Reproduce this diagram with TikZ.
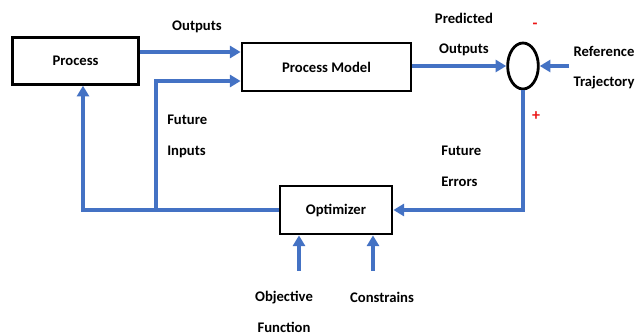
\documentclass[tikz,border=0pt]{standalone}
\usepackage{fontspec}
\setmainfont{Carlito}
\usetikzlibrary{arrows.meta,shapes.geometric}

\definecolor{flowblue}{RGB}{68,114,196}
\definecolor{signred}{RGB}{235,20,20}

\tikzset{
  blockbox/.style={draw=black, line width=2.1pt, fill=white, inner sep=0pt, font=\bfseries\fontsize{11}{13}\selectfont},
  flowline/.style={draw=flowblue, line width=2.6pt},
  flow/.style={flowline, -{Triangle[length=8pt,width=9pt]}},
  lbl/.style={inner sep=0pt, font=\bfseries\fontsize{11}{23}\selectfont},
  sign/.style={inner sep=0pt, text=signred, font=\bfseries\fontsize{12}{13}\selectfont},
}

\begin{document}
\begin{tikzpicture}[x=0.75pt,y=0.75pt,yscale=-1,xscale=1]
\useasboundingbox (0,0) rectangle (637,335);

%Shape: Blocks
\node[blockbox, minimum width=94pt, minimum height=35pt] (proc) at (75.5,61) {Process};
\node[blockbox, minimum width=126.75pt, minimum height=36pt] (model) at (326.5,67) {Process Model};
\node[blockbox, minimum width=84pt, minimum height=36pt] (opt) at (336,210) {Optimizer};
\node[ellipse, draw=black, line width=2.1pt, minimum width=23pt, minimum height=34.5pt, inner sep=0pt] (sum) at (523,66) {};

%Free ends
\coordinate (split) at (156,210);
\coordinate (ref) at (569,66);
\coordinate (objin) at (299,271);
\coordinate (conin) at (373,271);

%Straight Lines
\draw[flow] (proc.east |- 0,52) -- (model.west |- 0,52);
\draw[flow] (split) |- (model.west |- 0,81);
\draw[flow] (opt.west) -| (proc.south -| 83,0);
\draw[flow] (model.east |- sum.west) -- (sum.west);
\draw[flow] (ref) -- (sum.east);
\draw[flow] (sum.south) |- (opt.east);
\draw[flow] (objin) -- (opt.south -| objin);
\draw[flow] (conin) -- (opt.south -| conin);

% Text Node
\node[lbl] (outlbl) at (197,27) {Outputs};
\node[lbl, align=center] (predlbl) at (464,34.5) {Predicted\\Outputs};
\node[lbl, align=center] (reflbl) at (604,67.5) {Reference\\Trajectory};
\node[lbl, align=left, anchor=west] (inlbl) at (167,136.5) {Future\\Inputs};
\node[lbl, align=left, anchor=west] (errlbl) at (441,166) {Future\\Errors};
\node[lbl, align=center] (objlbl) at (284,312) {Objective\\Function};
\node[lbl] (conlbl) at (382,297) {Constrains};
\node[sign] (minus) at (535,26) {-};
\node[sign] (plus) at (536,116) {+};

\end{tikzpicture}
\end{document}
